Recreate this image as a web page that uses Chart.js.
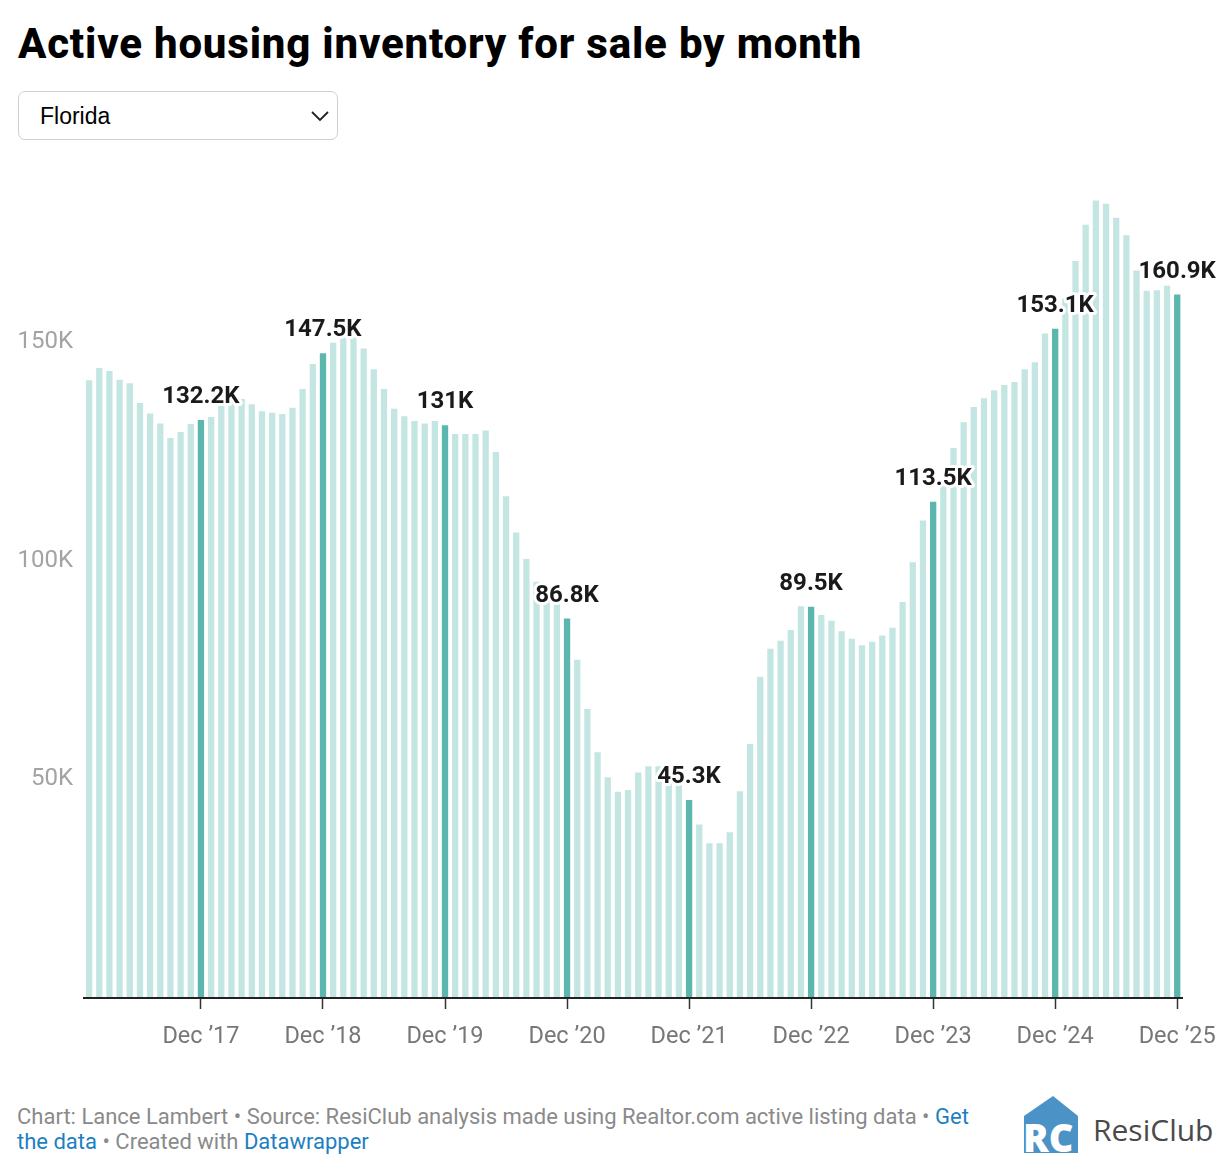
<!DOCTYPE html>
<html>
<head>
<meta charset="utf-8">
<script src="https://cdn.jsdelivr.net/npm/chart.js@4.4.1/dist/chart.umd.min.js"></script>
<style>
  html, body { margin: 0; padding: 0; background: #fff; }
  body { width: 1230px; height: 1172px; position: relative; overflow: hidden; font-family: Roboto, "Noto Sans", sans-serif; }
  h1 { position: absolute; left: 18px; top: 23px; margin: 0; font: 800 42px/42px Roboto, sans-serif; color: #000; letter-spacing: 0.8px; white-space: nowrap; }
  .dropdown { position: absolute; left: 18px; top: 91px; width: 320px; height: 49px; border: 1.5px solid #cfcfcf; border-radius: 7px; box-sizing: border-box; }
  .dropdown span { position: absolute; left: 21px; top: 12px; font: 23px/24px "Liberation Sans", Arial, sans-serif; color: #000; }
  .dropdown svg { position: absolute; right: 7px; top: 18px; }
  #wrap { position: absolute; left: 0; top: 150px; width: 1230px; height: 908px; }
  .footer { position: absolute; left: 17px; top: 1104px; width: 970px; font: 22px/25px Roboto, sans-serif; color: #8a8a8a; }
  .footer a { color: #1d7fc2; text-decoration: none; }
  .logo { position: absolute; left: 1022px; top: 1096px; }
  .logo-text { position: absolute; left: 1093px; top: 1114px; font: 500 30px/32px "Open Sans", sans-serif; color: #4a4a4a; }
</style>
</head>
<body>
<h1>Active housing inventory for sale by month</h1>
<div class="dropdown"><span>Florida</span>
  <svg width="20" height="12" viewBox="0 0 20 12"><polyline points="2,2 10,10 18,2" fill="none" stroke="#222" stroke-width="1.8"/></svg>
</div>
<div id="wrap"><canvas id="chart"></canvas></div>
<div class="footer">Chart: Lance Lambert • Source: ResiClub analysis made using Realtor.com active listing data • <a href="#">Get the data</a> • Created with <a href="#">Datawrapper</a></div>
<svg class="logo" width="58" height="58" viewBox="0 0 58 58">
  <polygon points="2,20 31,0 56,20 56,57 2,57" fill="#4b93c6"/>
  <text x="1" y="56" font-family="Open Sans, sans-serif" font-weight="800" font-size="38" fill="#fff">RC</text>
</svg>
<div class="logo-text">ResiClub</div>
<script>
// 月別在庫 (千件)
const years = [2017, 2018, 2019, 2020, 2021, 2022, 2023, 2024, 2025];
const monthNames = ['Jan', 'Feb', 'Mar', 'Apr', 'May', 'Jun', 'Jul', 'Aug', 'Sep', 'Oct', 'Nov', 'Dec'];

const inv2017 = [141.3, 144.1, 143.4, 141.4, 140.6, 136.1, 133.7, 131.4, 128.1, 129.5, 131.3, 132.2];
const inv2018 = [132.9, 136.0, 136.8, 137.0, 135.8, 134.2, 133.9, 133.6, 135.0, 139.3, 145.0, 147.5];
const inv2019 = [149.9, 152.0, 152.3, 148.6, 143.8, 139.3, 134.8, 133.1, 132.0, 131.4, 132.0, 131.0];
const inv2020 = [129.0, 129.0, 129.0, 129.8, 124.9, 114.8, 106.5, 100.4, 95.2, 93.2, 91.5, 86.8];
const inv2021 = [77.4, 66.1, 56.2, 50.5, 47.2, 47.6, 51.6, 53.0, 53.0, 51.5, 49.0, 45.3];
const inv2022 = [39.7, 35.4, 35.4, 37.9, 47.3, 58.1, 73.5, 79.9, 81.7, 84.2, 89.6, 89.5];
const inv2023 = [87.6, 86.3, 83.9, 82.2, 80.7, 81.5, 82.9, 84.7, 90.6, 99.7, 109.2, 113.5];
const inv2024 = [118.0, 125.8, 131.7, 135.2, 137.2, 139.0, 140.2, 140.9, 143.8, 145.4, 152.0, 153.1];
const inv2025 = [160.0, 168.6, 176.9, 182.4, 181.7, 178.5, 174.5, 166.4, 161.8, 161.9, 162.9, 160.9];

const yTicks = [50, 100, 150];

const values = [].concat(inv2017, inv2018, inv2019, inv2020, inv2021, inv2022, inv2023, inv2024, inv2025);
const labels = [];
years.forEach(y => monthNames.forEach(m => labels.push(m + ' ' + y)));

const isDec = i => i % 12 === 11;
const shortLabel = i => 'Dec \u2019' + String(years[Math.floor(i / 12)]).slice(2);

const LIGHT = '#c4e6e2';
const DARK = '#5bb6ad';

// 12月の棒に値ラベルを描く
const decLabels = {
    id: 'decLabels',
    afterDatasetsDraw(chart) {
        const ctx = chart.ctx;
        const meta = chart.getDatasetMeta(0);
        ctx.save();
        ctx.font = '700 24px Roboto, sans-serif';
        ctx.textAlign = 'center';
        ctx.textBaseline = 'middle';
        ctx.lineJoin = 'round';
        meta.data.forEach((bar, i) => {
            if (!isDec(i)) return;
            const txt = (Math.round(values[i] * 10) / 10) + 'K';
            const y = bar.y - 23;
            ctx.strokeStyle = '#fff';
            ctx.lineWidth = 6;
            ctx.strokeText(txt, bar.x, y);
            ctx.fillStyle = '#1a1a1a';
            ctx.fillText(txt, bar.x, y);
        });
        ctx.restore();
    }
};

new Chart(document.getElementById('chart'), {
    type: 'bar',
    data: {
        labels: labels,
        datasets: [{
            data: values,
            backgroundColor: values.map((v, i) => isDec(i) ? DARK : LIGHT),
            barPercentage: 0.62,
            categoryPercentage: 1.0
        }]
    },
    options: {
        responsive: true,
        maintainAspectRatio: false,
        animation: false,
        layout: { padding: { top: 7, right: 47, left: 0, bottom: 0 } },
        plugins: {
            legend: { display: false },
            tooltip: { enabled: false }
        },
        scales: {
            x: {
                grid: {
                    z: 1,
                    offset: false,
                    drawOnChartArea: false,
                    drawTicks: true,
                    tickLength: 11,
                    tickWidth: 1.5,
                    tickColor: c => isDec(c.index) ? '#333' : 'rgba(0,0,0,0)'
                },
                border: { display: true, color: '#222', width: 2, z: 1 },
                ticks: {
                    autoSkip: false,
                    maxRotation: 0,
                    minRotation: 0,
                    padding: 14,
                    color: '#777',
                    font: { family: 'Roboto, sans-serif', size: 23.5 },
                    callback: (v, i) => isDec(i) ? shortLabel(i) : ''
                },
                afterFit: s => { s.height = 60; }
            },
            y: {
                min: 0,
                max: 190,
                grid: { display: false },
                border: { display: false },
                afterBuildTicks: s => { s.ticks = yTicks.map(v => ({ value: v })); },
                ticks: {
                    padding: 3,
                    color: '#a3a3a3',
                    font: { family: 'Roboto, sans-serif', size: 24 },
                    callback: v => v + 'K'
                },
                afterFit: s => { s.width = 84; }
            }
        }
    },
    plugins: [decLabels]
});
</script>
</body>
</html>
